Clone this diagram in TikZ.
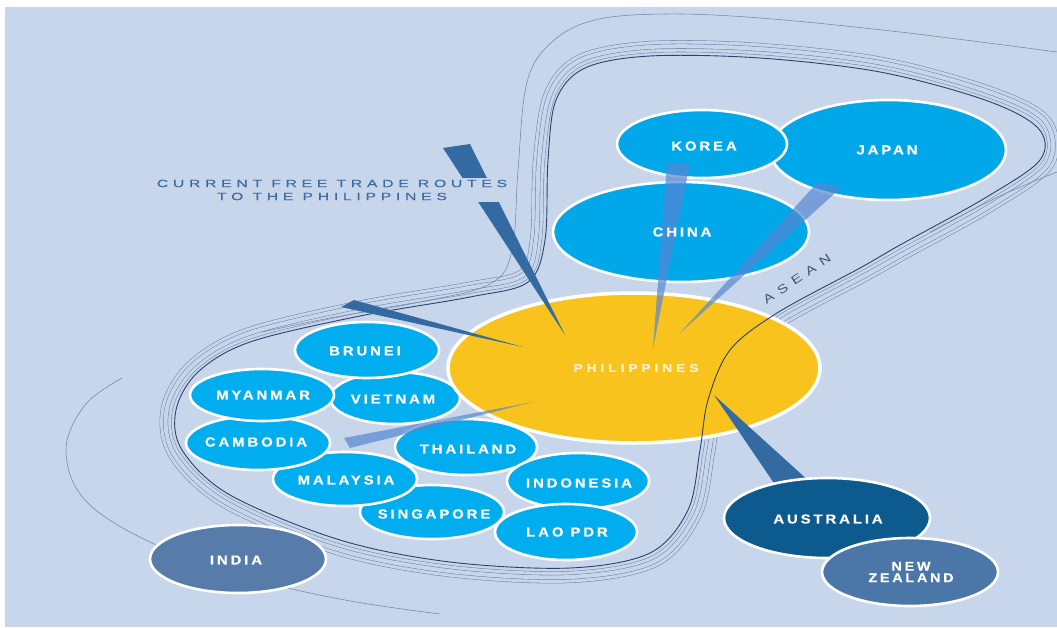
\documentclass[tikz,border=0pt]{standalone}
\usepackage{fontspec}
\setmainfont{Liberation Sans}
\newfontfamily\lblfont{Liberation Sans}[FakeStretch=1.15,LetterSpace=22,BoldFeatures={FakeBold=0.6}]
\newfontfamily\phfont{Liberation Sans}[FakeStretch=1.2,LetterSpace=34,BoldFeatures={FakeBold=0.5}]
\newfontfamily\ttlfont{Liberation Sans}[FakeStretch=1.5,LetterSpace=45,FakeBold=0.3]
\newfontfamily\aseanfont{Liberation Sans}[FakeStretch=1.3,LetterSpace=54]
\usetikzlibrary{shapes.geometric}
\definecolor{bg}{RGB}{200,214,236}
\definecolor{asean}{RGB}{0,173,238}
\definecolor{plus3}{RGB}{0,168,234}
\definecolor{phil}{RGB}{247,195,28}
\definecolor{india}{RGB}{88,124,170}
\definecolor{aus}{RGB}{12,90,142}
\definecolor{nz}{RGB}{74,118,168}
\definecolor{wedgedark}{RGB}{52,106,162}
\definecolor{wedgelight}{RGB}{85,135,210}
\definecolor{linedark}{RGB}{45,65,105}
\definecolor{linelight}{RGB}{115,135,170}
\definecolor{ttl}{RGB}{62,108,155}
\definecolor{aseantxt}{RGB}{60,85,120}
\definecolor{phtxt}{RGB}{255,240,205}
\begin{document}
\begin{tikzpicture}[x=1pt,y=-1pt,
  oval/.style n args={3}{ellipse, draw=white, line width=2.6pt, inner sep=0pt, fill=#1, minimum width=#2, minimum height=#3},
  lbl/.style={text=white, font=\lblfont\bfseries\fontsize{13}{12.5}\selectfont, inner sep=0pt, align=center},
  wdark/.style={fill=wedgedark},
  wlight/.style={fill=wedgelight, fill opacity=0.7},
  thinline/.style={draw=linelight, line width=0.55pt},
  darkline/.style={draw=linedark, line width=0.9pt}]
\useasboundingbox (0,0) rectangle (1057,627);
\fill[white] (0,0) rectangle (1057,627);
\fill[bg] (5,7) rectangle (1057,627);

% loop bundle (light lines, parallel pairs)
\foreach \dd in {11pt,4pt}
  \draw[thinline, double=bg, double distance=\dd] plot[smooth cycle, tension=0.55] coordinates {(539,160) (550,94) (581,60) (650,47) (760,49) (882,63) (989,92) (1045,121) (1048,164) (990,206) (905,253) (864,276) (782,320) (737,356) (717,402) (709,452) (696,514) (655,561) (570,577) (449,571) (337,549) (225,502) (174,454) (167,408) (192,366) (247,334) (358,307) (468,288) (523,275) (536,239)};
% outer curves
\draw[thinline] plot[smooth, tension=0.6] coordinates {(1057,52) (900,32) (760,18) (665,14) (595,20) (552,42) (527,82) (518,170) (512,250) (490,284) (420,302) (330,318) (262,332)};
\draw[thinline] plot[smooth, tension=0.6] coordinates {(122,378) (85,405) (66,450) (85,500) (150,542) (250,578) (345,600) (440,614)};
\draw[thinline] plot[smooth, tension=0.6] coordinates {(1057,172) (1000,196) (930,232)};

% plus-three
\node[oval={plus3}{236}{100}] (jp) at (888,150) {};
\node[oval={plus3}{170}{68}] (kr) at (702,144) {};
\node[oval={plus3}{256}{100}] (cn) at (681,232) {};
% ASEAN members
\node[oval={asean}{130}{52}] (vn) at (395,398) {};
\node[oval={asean}{144}{56}] (bn) at (367,350) {};
\node[oval={asean}{144}{54}] (sg) at (432,512) {};
\node[oval={asean}{144}{54}] (my) at (345,479) {};
\node[oval={asean}{144}{54}] (kh) at (258,443) {};
\node[oval={asean}{144}{52}] (mm) at (262,395) {};
\node[oval={asean}{142}{56}] (th) at (466,447) {};
\node[oval={asean}{142}{56}] (id) at (578,481) {};
\node[oval={asean}{142}{56}] (la) at (566,532) {};
\node[oval={india}{176}{68}] (in) at (238,559) {};
\node[oval={phil}{372}{150}, line width=3.5pt] (ph) at (634,368) {};

% inner dark loop line
\draw[darkline] plot[smooth cycle, tension=0.55] coordinates {(548,160) (556,100) (585,68) (650,56) (760,58) (880,72) (985,100) (1038,128) (1040,160) (985,198) (900,245) (860,268) (777,313) (730,350) (708,400) (700,450) (688,510) (650,553) (570,568) (450,562) (340,540) (230,495) (182,450) (176,410) (198,372) (250,342) (360,316) (470,297) (528,282) (545,240)};

% wedges
\coordinate (tw1) at (443,148); \coordinate (tw2) at (470,144); \coordinate (twt) at (565,335);
\coordinate (lw1) at (341,307); \coordinate (lw2) at (354,300); \coordinate (lwt) at (523,347);
\coordinate (kw1) at (667,163); \coordinate (kw2) at (690,163); \coordinate (kwt) at (653,348);
\coordinate (jw1) at (817,183); \coordinate (jw2) at (843,186); \coordinate (jwt) at (680,333);
\coordinate (cw1) at (344,438); \coordinate (cw2) at (350,448); \coordinate (cwt) at (533,402);
\coordinate (aw1) at (780,492); \coordinate (aw2) at (821,492); \coordinate (awt) at (714,395);
\fill[wdark] (tw1) -- (tw2) -- (twt) -- cycle;
\fill[wdark] (lw1) -- (lw2) -- (lwt) -- cycle;
\fill[wdark] (aw1) -- (aw2) -- (awt) -- cycle;
\fill[wlight] (kw1) -- (kw2) -- (kwt) -- cycle;
\fill[wlight] (jw1) -- (jw2) -- (jwt) -- cycle;
\fill[wlight] (cw1) -- (cw2) -- (cwt) -- cycle;

% Australia and New Zealand
\node[oval={aus}{206}{80}] (au) at (827,518) {};
\node[oval={nz}{176}{68}] (nz) at (910,572) {};

% labels
\node[lbl] (kr-t) at (704,146) {KOREA};
\node[lbl] (jp-t) at (887,150) {JAPAN};
\node[lbl] (cn-t) at (682,232) {CHINA};
\node[lbl, text=phtxt, font=\phfont\bfseries\fontsize{11.5}{12}\selectfont] (ph-t) at (636,368) {PHILIPPINES};
\node[lbl] (bn-t) at (365,351) {BRUNEI};
\node[lbl] (mm-t) at (263,395) {MYANMAR};
\node[lbl] (vn-t) at (393,399) {VIETNAM};
\node[lbl] (kh-t) at (256,442) {CAMBODIA};
\node[lbl] (th-t) at (468,449) {THAILAND};
\node[lbl] (my-t) at (346,480) {MALAYSIA};
\node[lbl] (id-t) at (579,483) {INDONESIA};
\node[lbl] (sg-t) at (434,514) {SINGAPORE};
\node[lbl] (la-t) at (567,532) {LAO PDR};
\node[lbl] (in-t) at (236,560) {INDIA};
\node[lbl] (au-t) at (828,519) {AUSTRALIA};
\node[lbl, font=\lblfont\bfseries\fontsize{12.5}{11.5}\selectfont] (nz-t) at (911,572) {NEW\\ZEALAND};

\node[font=\ttlfont\fontsize{10.5}{13}\selectfont, text=ttl, fill=bg, align=center, inner sep=1.5pt] (title) at (332,190) {CURRENT FREE TRADE ROUTES\\TO THE PHILIPPINES};
\node[font=\aseanfont\fontsize{12}{12}\selectfont, text=aseantxt, rotate=34, inner sep=0pt] (asean-t) at (797,279) {ASEAN};
\end{tikzpicture}
\end{document}
